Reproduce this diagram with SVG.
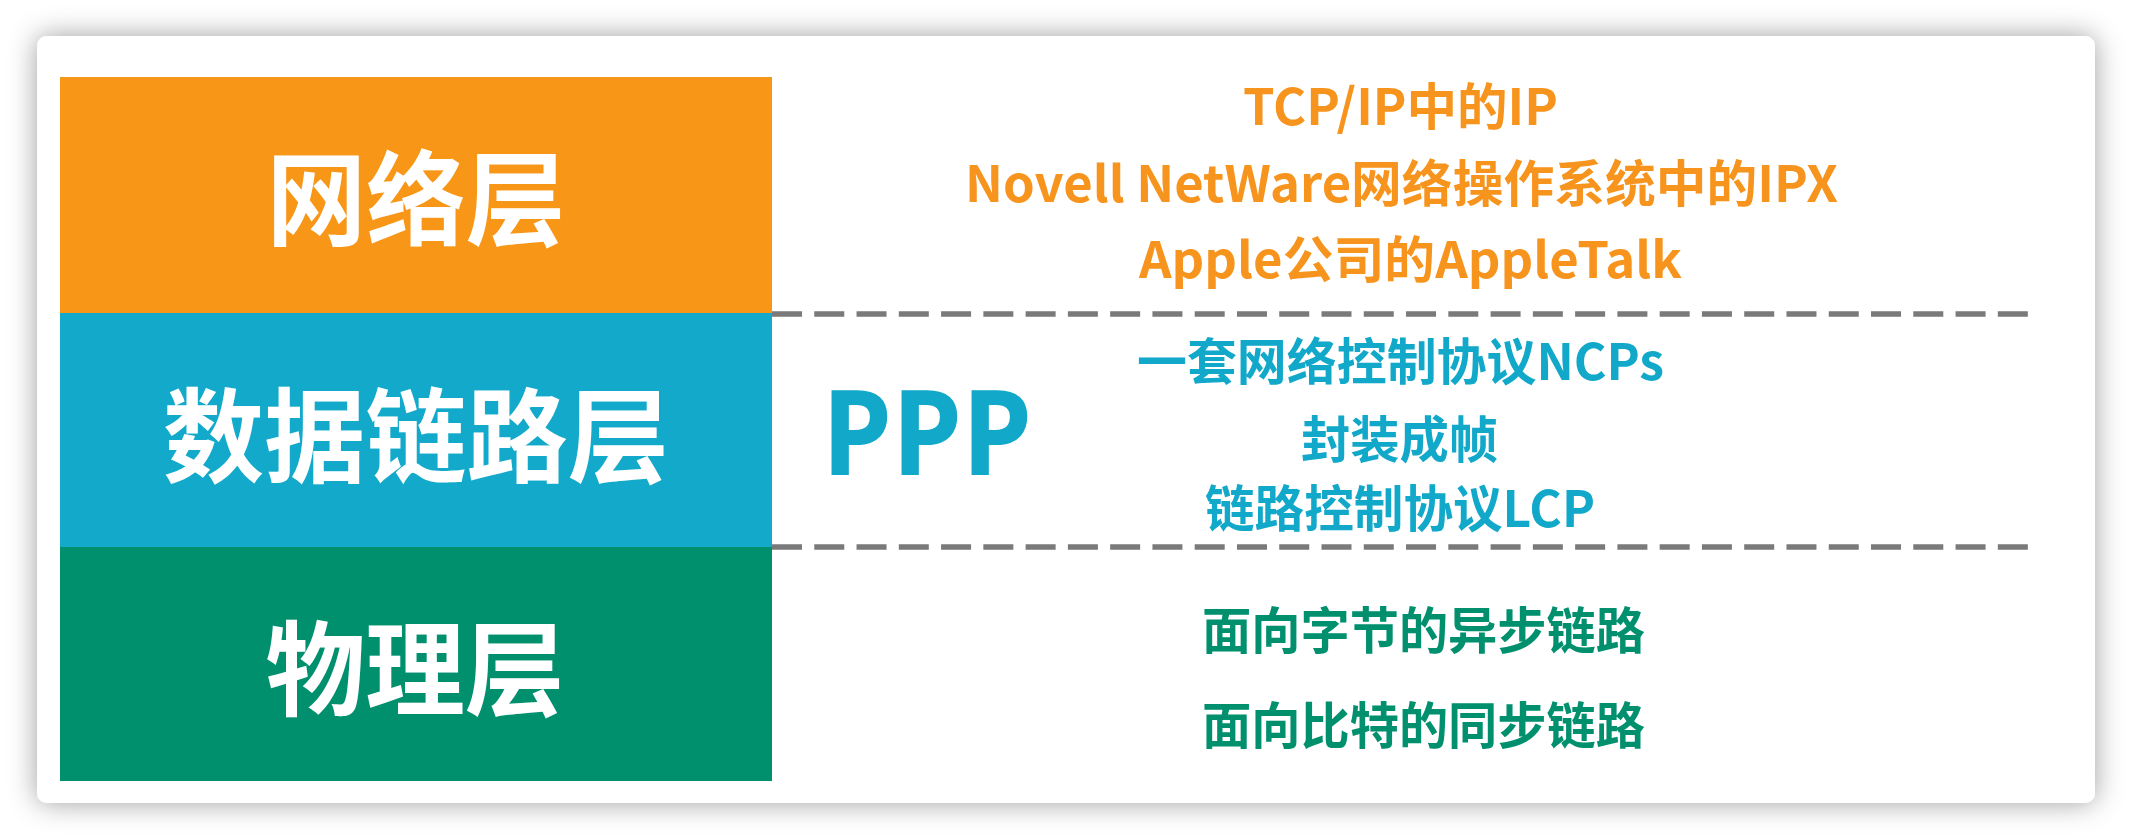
<svg xmlns="http://www.w3.org/2000/svg" width="2132" height="840" viewBox="0 0 2132 840">
  <defs>
    <filter id="shadow" x="-5%" y="-10%" width="110%" height="120%">
      <feDropShadow dx="0" dy="0" stdDeviation="14" flood-color="#000" flood-opacity="0.38"/>
    </filter>
    <style>
      .big { font-family: "Noto Sans CJK SC", "Microsoft YaHei", sans-serif; font-weight: bold; font-size: 103px; fill: #ffffff; text-anchor: middle; }
      .sm { font-family: "Noto Sans CJK SC", "Microsoft YaHei", sans-serif; font-weight: bold; font-size: 50px; }
      .or { fill: #F7941D; }
      .bl { fill: #12A8CA; }
      .gr { fill: #00906E; }
      .sep { stroke: #7a7a7a; stroke-width: 5.5; stroke-dasharray: 30 12.27; fill: none; }
    </style>
  </defs>
  <rect x="0" y="0" width="2132" height="840" fill="#ffffff"/>
  <rect id="card" x="37" y="36" width="2058" height="767" rx="10" ry="10" fill="#ffffff" filter="url(#shadow)"/>

  <g id="network-layer">
    <rect x="60" y="77" width="712" height="236" fill="#F79617"/>
    <text class="big" x="416" y="238" textLength="299" lengthAdjust="spacingAndGlyphs">网络层</text>
  </g>
  <g id="datalink-layer">
    <rect x="60" y="313" width="712" height="234" fill="#12A9CA"/>
    <text class="big" x="416" y="475" textLength="506" lengthAdjust="spacingAndGlyphs">数据链路层</text>
  </g>
  <g id="physical-layer">
    <rect x="60" y="547" width="712" height="234" fill="#00906E"/>
    <text class="big" x="415" y="708" textLength="299" lengthAdjust="spacingAndGlyphs">物理层</text>
  </g>

  <g id="connectors">
    <line class="sep" x1="772" y1="314" x2="2030" y2="314"/>
    <line class="sep" x1="772" y1="547" x2="2030" y2="547"/>
  </g>

  <g id="network-protocols">
    <text class="sm or" x="1243" y="125" textLength="315" lengthAdjust="spacingAndGlyphs">TCP/IP中的IP</text>
    <text class="sm or" x="965" y="202" textLength="873" lengthAdjust="spacingAndGlyphs">Novell NetWare网络操作系统中的IPX</text>
    <text class="sm or" x="1139" y="278" textLength="543" lengthAdjust="spacingAndGlyphs">Apple公司的AppleTalk</text>
  </g>

  <g id="ppp">
    <text x="822" y="475" textLength="210" lengthAdjust="spacingAndGlyphs" style="font-family: 'Noto Sans', 'Open Sans', sans-serif; font-weight: bold; font-size: 118px; fill: #12A8CA;">PPP</text>
    <text class="sm bl" x="1137" y="380" textLength="527" lengthAdjust="spacingAndGlyphs">一套网络控制协议NCPs</text>
    <text class="sm bl" x="1301" y="458" textLength="197" lengthAdjust="spacingAndGlyphs">封装成帧</text>
    <text class="sm bl" x="1205" y="527" textLength="390" lengthAdjust="spacingAndGlyphs">链路控制协议LCP</text>
  </g>

  <g id="physical-links">
    <text class="sm gr" x="1202" y="649" textLength="443" lengthAdjust="spacingAndGlyphs">面向字节的异步链路</text>
    <text class="sm gr" x="1202" y="744" textLength="443" lengthAdjust="spacingAndGlyphs">面向比特的同步链路</text>
  </g>
</svg>
